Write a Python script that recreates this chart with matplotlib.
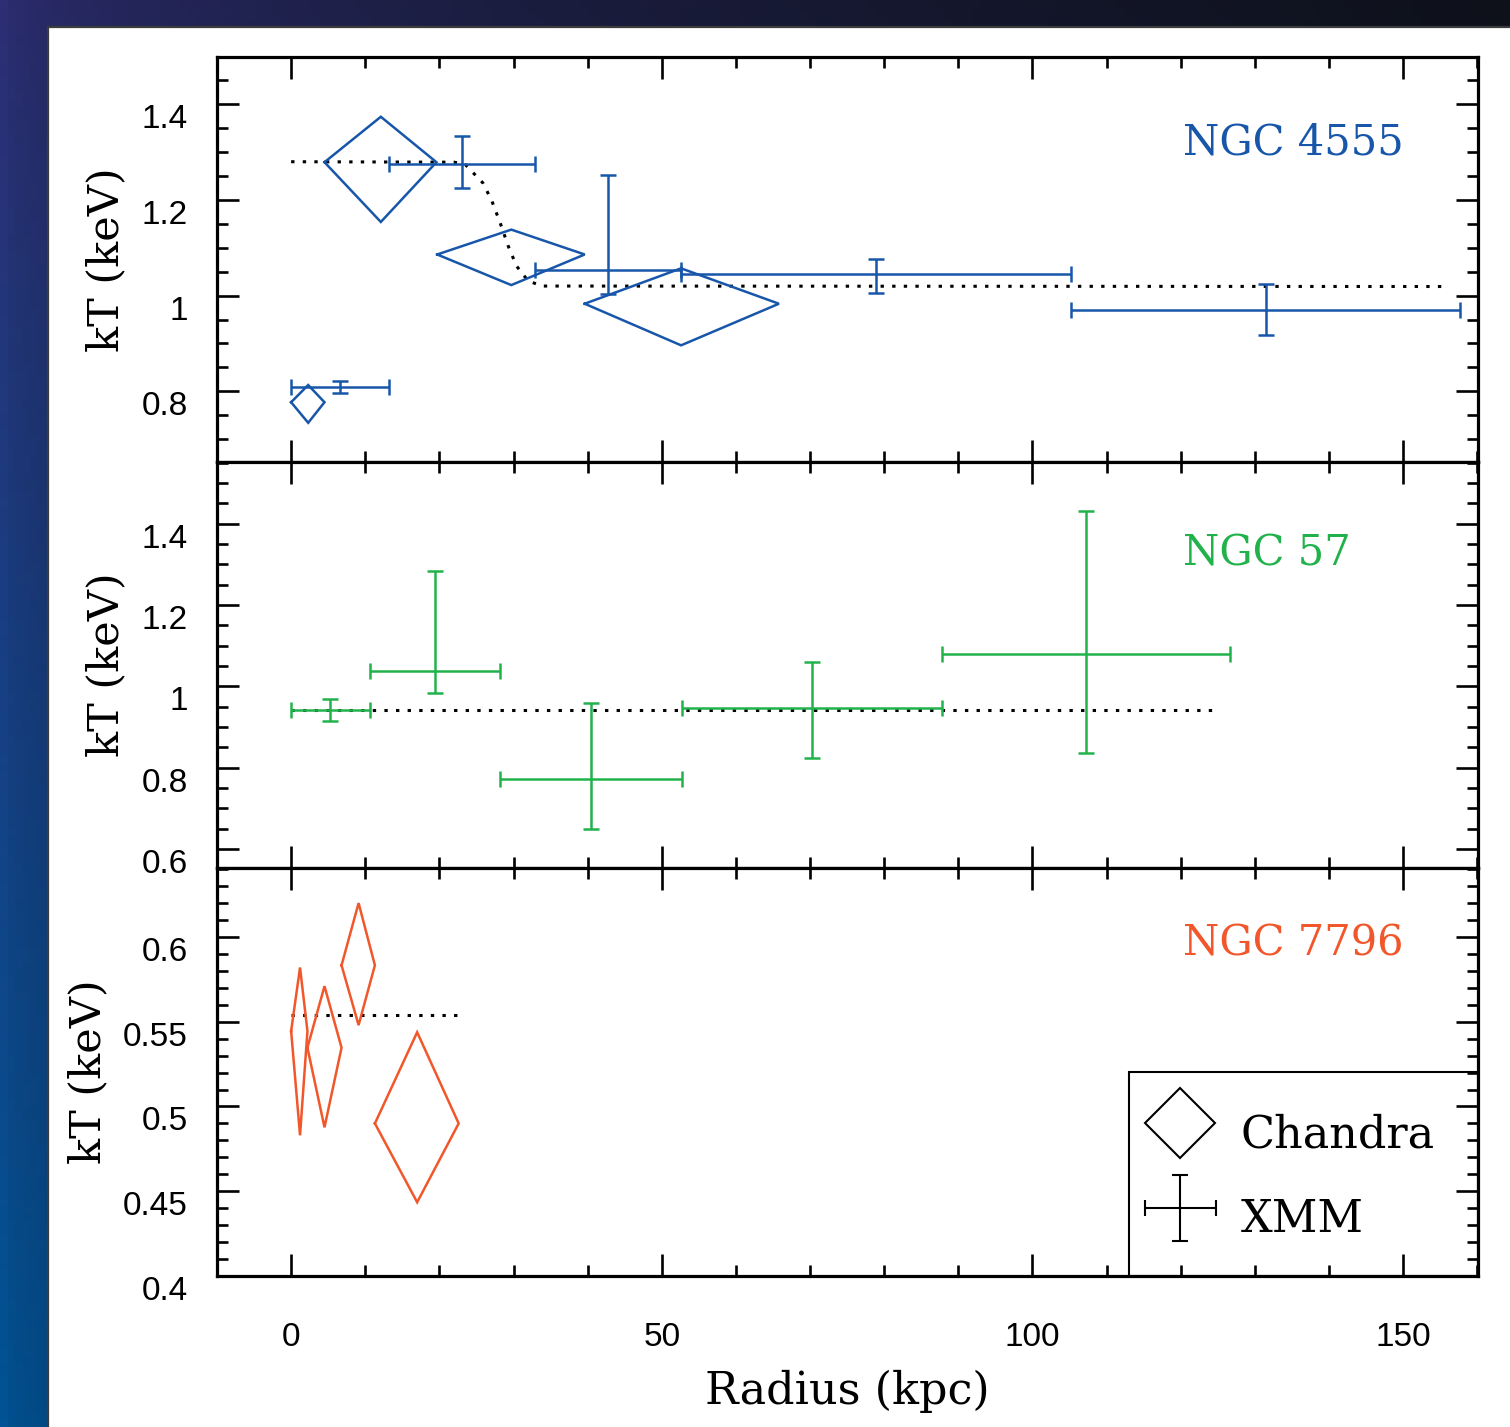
import numpy as np
import matplotlib
matplotlib.use("Agg")
import matplotlib.pyplot as plt
from matplotlib.patches import Rectangle
from matplotlib.lines import Line2D
from matplotlib.legend_handler import HandlerErrorbar
from matplotlib.container import ErrorbarContainer
from matplotlib.ticker import MultipleLocator, FixedLocator
from matplotlib.transforms import blended_transform_factory

# ---- NGC 4555 ----
# Chandra: radial bin (lo, centre, hi) and kT with its range
n4555_ch_rlo = [0.0, 4.5, 19.7, 39.6]
n4555_ch_r = [2.3, 12.1, 29.7, 52.6]
n4555_ch_rhi = [4.5, 19.6, 39.6, 65.8]
n4555_ch_kt = [0.777, 1.279, 1.086, 0.983]
n4555_ch_ktlo = [0.734, 1.154, 1.022, 0.896]
n4555_ch_kthi = [0.813, 1.374, 1.138, 1.057]
# XMM
n4555_xmm_rlo = [0.0, 13.2, 32.9, 52.6, 105.2]
n4555_xmm_rhi = [13.2, 32.9, 52.6, 105.2, 157.7]
n4555_xmm_kt = [0.808, 1.276, 1.053, 1.046, 0.969]
n4555_xmm_ktlo = [0.796, 1.224, 1.004, 1.006, 0.918]
n4555_xmm_kthi = [0.822, 1.333, 1.253, 1.076, 1.024]
# model profile (dotted)
n4555_mod_r = [0, 22.0, 23.5, 25.9, 27.1, 28.2, 29.3, 30.4, 32.0, 34.0, 155.7]
n4555_mod_kt = [1.280, 1.279, 1.274, 1.235, 1.197, 1.152, 1.103, 1.062, 1.030, 1.020, 1.019]

# ---- NGC 57 ----
n57_xmm_rlo = [0.0, 10.6, 28.2, 52.7, 87.8]
n57_xmm_rhi = [10.6, 28.2, 52.7, 87.8, 126.7]
n57_xmm_kt = [0.942, 1.038, 0.772, 0.947, 1.079]
n57_xmm_ktlo = [0.915, 0.983, 0.649, 0.824, 0.836]
n57_xmm_kthi = [0.968, 1.284, 0.958, 1.060, 1.432]
n57_mod_r = [0, 124.9]
n57_mod_kt = [0.942, 0.942]

# ---- NGC 7796 ----
n7796_ch_rlo = [0.0, 2.2, 6.8, 11.3]
n7796_ch_r = [1.2, 4.5, 9.1, 17.0]
n7796_ch_rhi = [2.2, 6.8, 11.3, 22.6]
n7796_ch_kt = [0.5445, 0.5347, 0.5833, 0.490]
n7796_ch_ktlo = [0.483, 0.4877, 0.548, 0.4435]
n7796_ch_kthi = [0.582, 0.571, 0.620, 0.5438]
n7796_mod_r = [0, 22.35]
n7796_mod_kt = [0.554, 0.554]

BLUE = "#1756a9"
GREEN = "#22b24c"
ORANGE = "#f1572a"

W, H = 1510, 1427
fig = plt.figure(figsize=(W / 100, H / 100), dpi=100)

# dark gradient backdrop with the white card on top
bg = fig.add_axes([0, 0, 1, 1], zorder=-5)
gx = np.linspace(0, 1, 200)[None, :]
gy = np.linspace(0, 1, 200)[:, None]
tl = np.array([0x2d, 0x2e, 0x74]) / 255
tr = np.array([0x0e, 0x11, 0x1a]) / 255
bl = np.array([0x00, 0x53, 0x94]) / 255
br = np.array([0x08, 0x1c, 0x36]) / 255
fx = (gx ** 0.5)[..., None]
fy = gy[..., None]
grad = (1 - fx) * (1 - fy) * tl + fx * (1 - fy) * tr + (1 - fx) * fy * bl + fx * fy * br
bg.imshow(grad, extent=[0, 1, 0, 1], aspect="auto", origin="upper")
bg.add_patch(Rectangle((48 / W, -0.01), 1, 1 - 27 / H + 0.01, facecolor="white",
                       edgecolor="#3c3c3c", lw=1.6))
bg.set_xlim(0, 1)
bg.set_ylim(0, 1)
bg.axis("off")

left, right = 217 / W, 1478 / W
edges = [57, 462, 868, 1276]
axes = []
for i in range(3):
    top = 1 - edges[i] / H
    bot = 1 - edges[i + 1] / H
    axes.append(fig.add_axes([left, bot, right - left, top - bot]))
ax1, ax2, ax3 = axes

SERIF = "DejaVu Serif"
SANS = "Liberation Sans"
LW = 1.8


def diamonds(ax, rlo, r, rhi, kt, ktlo, kthi, color):
    for a, b, c, y, ylo, yhi in zip(rlo, r, rhi, kt, ktlo, kthi):
        ax.plot([a, b, c, b, a], [y, yhi, y, ylo, y], color=color, lw=LW,
                solid_joinstyle="miter")


def xmm(ax, rlo, rhi, kt, ktlo, kthi, color):
    rlo, rhi = np.array(rlo), np.array(rhi)
    kt, ktlo, kthi = np.array(kt), np.array(ktlo), np.array(kthi)
    r = (rlo + rhi) / 2
    ax.errorbar(r, kt, xerr=[r - rlo, rhi - r], yerr=[kt - ktlo, kthi - kt],
                fmt="none", ecolor=color, elinewidth=LW, capsize=5.5, capthick=LW)


dots = (0, (1.1, 2.7))
ax1.plot(n4555_mod_r, n4555_mod_kt, color="black", lw=2.2, ls=dots)
diamonds(ax1, n4555_ch_rlo, n4555_ch_r, n4555_ch_rhi, n4555_ch_kt, n4555_ch_ktlo, n4555_ch_kthi, BLUE)
xmm(ax1, n4555_xmm_rlo, n4555_xmm_rhi, n4555_xmm_kt, n4555_xmm_ktlo, n4555_xmm_kthi, BLUE)

ax2.plot(n57_mod_r, n57_mod_kt, color="black", lw=2.2, ls=dots)
xmm(ax2, n57_xmm_rlo, n57_xmm_rhi, n57_xmm_kt, n57_xmm_ktlo, n57_xmm_kthi, GREEN)

ax3.plot(n7796_mod_r, n7796_mod_kt, color="black", lw=2.2, ls=dots)
diamonds(ax3, n7796_ch_rlo, n7796_ch_r, n7796_ch_rhi, n7796_ch_kt, n7796_ch_ktlo, n7796_ch_kthi, ORANGE)

ylims = [(0.652, 1.499), (0.553, 1.552), (0.4, 0.6407)]
yticks = [[0.8, 1.0, 1.2, 1.4], [0.6, 0.8, 1.0, 1.2, 1.4], [0.4, 0.45, 0.5, 0.55, 0.6]]
ylabels = [["0.8", "1", "1.2", "1.4"], ["0.6", "0.8", "1", "1.2", "1.4"],
           ["0.4", "0.45", "0.5", "0.55", "0.6"]]
yminor = [0.05, 0.05, 0.01]
names = ["NGC 4555", "NGC 57", "NGC 7796"]
name_y = [0.79, 0.775, 0.815]
colors = [BLUE, GREEN, ORANGE]

for i, ax in enumerate(axes):
    ax.set_xlim(-10, 160.1)
    ax.set_ylim(*ylims[i])
    ax.xaxis.set_major_locator(FixedLocator([0, 50, 100, 150]))
    ax.xaxis.set_minor_locator(MultipleLocator(10))
    ax.set_yticks(yticks[i], ylabels[i])
    ax.yaxis.set_minor_locator(MultipleLocator(yminor[i]))
    ax.tick_params(which="both", direction="in", top=True, right=True, width=1.9,
                   labelsize=24, labelfontfamily=SANS)
    ax.tick_params(which="major", length=16)
    ax.tick_params(which="minor", length=8)
    ax.tick_params(axis="y", pad=21)
    ax.tick_params(axis="x", pad=33)
    for lbl in ax.get_yticklabels():
        lbl.set_verticalalignment("top")
    for s in ax.spines.values():
        s.set_linewidth(2.3)
    ax.set_ylabel("kT (keV)", fontsize=31, family=SERIF, labelpad=10)
    tr_ = blended_transform_factory(ax.transData, ax.transAxes)
    ax.text(120.3, name_y[i], names[i], transform=tr_, color=colors[i],
            fontsize=30, family=SERIF, ha="left", va="center")
    if i < 2:
        ax.tick_params(axis="x", labelbottom=False)

ax3.set_xlabel("Radius (kpc)", fontsize=32, family=SERIF, labelpad=12)

# legend: entries without frame, box drawn separately so it meets the spines
h_ch = Line2D([], [], marker="D", ms=36, mfc="none", mec="black", mew=1.5, ls="none")
h_x = ax3.errorbar([np.nan], [np.nan], xerr=[1], yerr=[1], fmt="none", ecolor="black",
                   elinewidth=1.5, capsize=6, capthick=1.5)
ax3.legend([h_ch, h_x], ["Chandra", "XMM"], loc="center", bbox_to_anchor=(0.8497, 0.2463),
           prop={"family": SERIF, "size": 32}, handlelength=1.7, handleheight=2.0,
           handletextpad=0.5, labelspacing=0.37, borderpad=0.0, frameon=False,
           handler_map={ErrorbarContainer: HandlerErrorbar(xerr_size=0.8, yerr_size=0.75)})
ax3.add_patch(Rectangle((0.7232, 0), 1 - 0.7232, 0.5, transform=ax3.transAxes,
                        fill=False, edgecolor="black", lw=1.5, clip_on=False, zorder=6))

fig.savefig("out.png", dpi=100)
